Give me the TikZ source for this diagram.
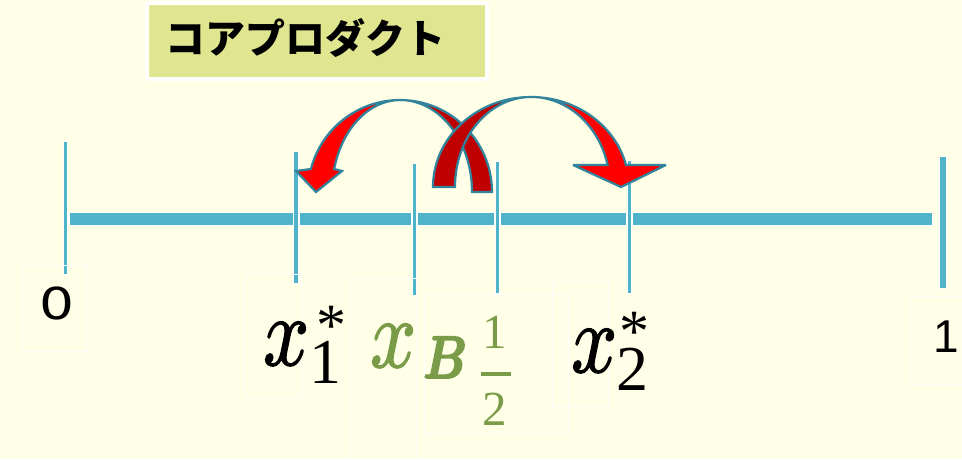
\documentclass[tikz,border=0pt]{standalone}
\usepackage{amsmath}
\usepackage{fontspec}
\usepackage{unicode-math}
\setmathfont{Latin Modern Math}
\newfontfamily\jpfont{Noto Sans CJK JP}
\newfontfamily\dejavu{DejaVu Sans}
\newfontfamily\libsans{Liberation Sans}
\newfontfamily\libserif{Liberation Serif}
\newfontfamily\lmx{Latin Modern Math}[FakeBold=1.6]
\newfontfamily\lmb{Latin Modern Math}[FakeBold=3]
\definecolor{bgc}{HTML}{FFFFE7}
\definecolor{titlec}{HTML}{E0E68F}
\definecolor{teal1}{HTML}{4FB3C9}
\definecolor{arrowedge}{HTML}{31849B}
\definecolor{darkred}{HTML}{C00000}
\definecolor{brightred}{HTML}{FF0000}
\definecolor{greentext}{HTML}{7A9C49}
\tikzset{
  tickbar/.style={fill=teal1, draw=white, line width=0.8pt},
  axisbar/.style={fill=teal1, draw=white, line width=0.8pt},
  labelbox/.style={draw=white, line width=1pt},
  arrowline/.style={draw=arrowedge, line width=2.2pt, line join=miter, miter limit=4},
  lbl/.style={inner sep=0pt, anchor=base},
  mathx/.style={inner sep=0pt, anchor=base west},
}
\newcommand{\bigx}[1][black]{\scalebox{0.82}[1]{\fontsize{98}{98}\selectfont\color{#1}\lmx 𝑥}}
\newcommand{\bigast}{\fontsize{60}{60}\selectfont\libserif *}
\begin{document}
\begin{tikzpicture}[x=1pt,y=-1pt]
\useasboundingbox (0,0) rectangle (962,459);
\fill[bgc] (0,0) rectangle (962,459);
% title
\draw[draw=white, line width=4pt, fill=titlec, rounded corners=2pt] (147,3) rectangle (487,79);
\node[inner sep=0pt, anchor=center] (title) at (305,38) {\fontsize{40}{40}\selectfont\jpfont\bfseries コアプロダクト};
% axis segments
\draw[axisbar] (69,212) rectangle (293,225);
\draw[axisbar] (299.5,212) rectangle (411.5,225);
\draw[axisbar] (417.5,212) rectangle (494.5,225);
\draw[axisbar] (500.5,212) rectangle (626.5,225);
\draw[axisbar] (632.5,212) rectangle (932,225);
% ticks
\draw[tickbar] (63.3,141) rectangle (67.7,274);
\draw[tickbar] (293.8,151) rectangle (298.2,283);
\draw[tickbar] (412.3,163) rectangle (416.7,295);
\draw[tickbar] (495.3,161) rectangle (499.7,293);
\draw[tickbar] (627.3,160) rectangle (631.7,293);
\draw[tickbar] (939.5,156) rectangle (946,288);
% label boxes
\draw[labelbox] (22,265) rectangle (86,351);
\draw[labelbox] (244,274) rectangle (301,397);
\draw[labelbox] (350,278) -- (350,462) (416,462) -- (416,278) -- (350,278);
\draw[labelbox] (424,294) rectangle (568,434);
\draw[labelbox] (552,282) rectangle (608,406);
\draw[labelbox] (965,296) -- (910,296) -- (910,384) -- (965,384);
% labels
\node[lbl] (zero) at (57,319) {\scalebox{1.25}[1]{\fontsize{44}{44}\selectfont\dejavu 0}};
\node[lbl] (one) at (946,352) {\fontsize{46}{46}\selectfont\libsans 1};
% x1*
\node[mathx] (x1) at (263,365) {\bigx};
\node[lbl] (x1sub) at (325.5,383) {\fontsize{64}{64}\selectfont\libserif 1};
\node[lbl] (x1ast) at (331,345) {\bigast};
% xB
\node[mathx] (xB) at (370,367) {\bigx[greentext]};
\node[mathx] (B) at (423,378) {\scalebox{0.8}[1]{\fontsize{60}{60}\selectfont\color{greentext}\lmb 𝑩}};
% 1/2
\node[lbl, text=greentext] (hnum) at (494.5,348) {\fontsize{49}{49}\selectfont\libserif 1};
\node[lbl, text=greentext] (hden) at (495,425) {\fontsize{49}{49}\selectfont\libserif 2};
\draw[greentext, line width=3.5pt] (481,374) -- (511,374);
% x2*
\node[mathx] (x2) at (571,372) {\bigx};
\node[lbl] (x2sub) at (632,390) {\fontsize{64}{64}\selectfont\libserif 2};
\node[lbl] (x2ast) at (634,351) {\bigast};
% arrow 1 (pointing left)
\draw[arrowline, fill=darkred] (400,100) arc[start angle=-90, end angle=0, x radius=92, y radius=92] -- (472,192) arc[start angle=0, end angle=-90, x radius=72, y radius=92] -- cycle;
\draw[arrowline, fill=brightred] (400,100) arc[start angle=-90, end angle=-165.5, x radius=92, y radius=92] -- (296,171) -- (316,192) -- (342,171) -- (334.2,169) arc[start angle=-165.5, end angle=-90, x radius=68, y radius=92] -- cycle;
% arrow 2 (pointing right)
\draw[arrowline, fill=darkred] (531,97) arc[start angle=-90, end angle=-180, x radius=98, y radius=90] -- (455,187) arc[start angle=-180, end angle=-90, x radius=76, y radius=90] -- cycle;
\draw[arrowline, fill=brightred] (531,97) arc[start angle=-90, end angle=-14.1, x radius=98, y radius=90] -- (666,165) -- (621,187) -- (573,165) -- (607.6,165) arc[start angle=-14.1, end angle=-90, x radius=79, y radius=90] -- cycle;
\end{tikzpicture}
\end{document}
